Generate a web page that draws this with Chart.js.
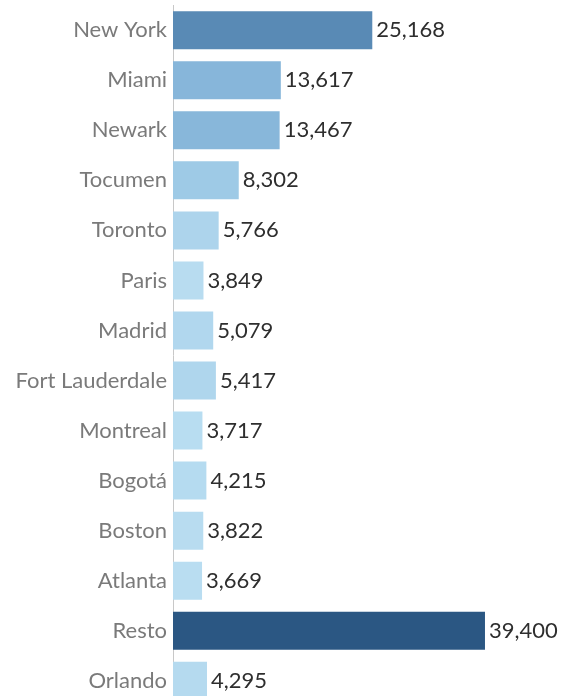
<!DOCTYPE html>
<html>
<head>
<meta charset="utf-8">
<title>Destinos</title>
<style>
  html, body { margin: 0; padding: 0; background: #fff; overflow: hidden; }
  #destChart { display: block; margin-top: -14px; }
</style>
</head>
<body>
<canvas id="destChart" width="561" height="739"></canvas>
<script src="https://cdn.jsdelivr.net/npm/chart.js"></script>
<script>
const cities = ["New York", "Miami", "Newark", "Tocumen", "Toronto", "Paris", "Madrid",
  "Fort Lauderdale", "Montreal", "Bogotá", "Boston", "Atlanta", "Resto", "Orlando"];
const passengers = [25168, 13617, 13467, 8302, 5766, 3849, 5079, 5417, 3717, 4215, 3822, 3669, 39400, 4295];

// colour ramp roughly like the sequential blue in the picture
const rampStops = [
  [3600, [185, 221, 241]],
  [8300, [158, 202, 230]],
  [13600, [135, 182, 218]],
  [25000, [90, 139, 182]],
  [39400, [43, 87, 131]]
];
function rampColor(v) {
  for (let i = 1; i < rampStops.length; i++) {
    const [v0, c0] = rampStops[i - 1];
    const [v1, c1] = rampStops[i];
    if (v <= v1) {
      const t = Math.max(0, (v - v0) / (v1 - v0));
      const c = c0.map((a, k) => Math.round(a + (c1[k] - a) * t));
      return 'rgb(' + c.join(',') + ')';
    }
  }
  return 'rgb(43,87,131)';
}

const valueLabels = {
  id: 'valueLabels',
  afterDatasetsDraw(chart) {
    const ctx = chart.ctx;
    const meta = chart.getDatasetMeta(0);
    ctx.save();
    ctx.font = '22px Lato';
    ctx.fillStyle = '#2e2e2e';
    ctx.textBaseline = 'middle';
    ctx.textAlign = 'left';
    meta.data.forEach((bar, i) => {
      ctx.fillText(passengers[i].toLocaleString('en-US'), bar.x + 4, bar.y);
    });
    ctx.restore();
  }
};

const ctx = document.getElementById('destChart');
new Chart(ctx, {
  type: 'bar',
  data: {
    labels: cities,
    datasets: [{
      data: passengers,
      backgroundColor: passengers.map(rampColor),
      barPercentage: 0.76,
      categoryPercentage: 1
    }]
  },
  options: {
    indexAxis: 'y',
    responsive: false,
    animation: false,
    devicePixelRatio: 1,
    layout: { padding: { top: 4, bottom: 6, right: 0, left: 0 } },
    plugins: { legend: { display: false }, tooltip: { enabled: false } },
    scales: {
      x: { display: false, min: 0, max: 49000 },
      y: {
        grid: { display: false, drawTicks: false, tickLength: 0 },
        border: { display: true, color: '#c8c8c8', dash: [2, 2], width: 1 },
        ticks: { color: '#7a7a7a', font: { family: 'Lato', size: 22 }, padding: 6 },
        afterFit(scale) { scale.width = 173; }
      }
    }
  },
  plugins: [valueLabels]
});
</script>
</body>
</html>
